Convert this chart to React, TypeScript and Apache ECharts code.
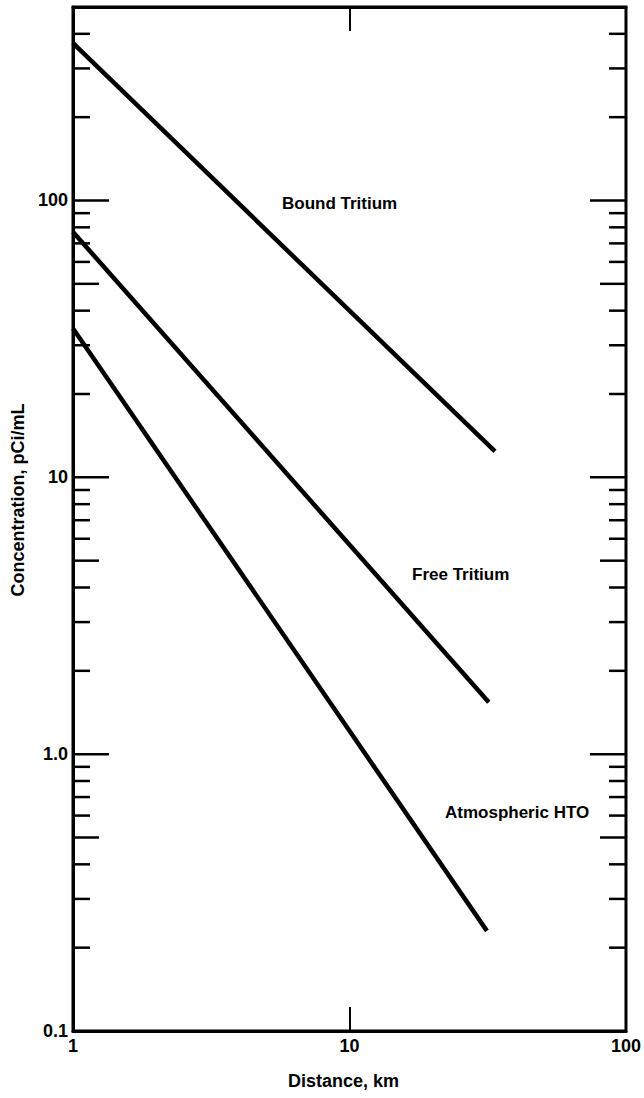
import React, { useEffect, useRef } from "react";
import * as echarts from "echarts";

// Data (log-log)
const boundTritium: [number, number][] = [[1, 370], [33.6, 12.4]];
const freeTritium: [number, number][] = [[1, 77], [31.9, 1.54]];
const atmosphericHTO: [number, number][] = [[1, 34.5], [31.4, 0.23]];

const seriesNames = ["Bound Tritium", "Free Tritium", "Atmospheric HTO"];

const xTickLabels: Record<string, string> = { "0": "1", "1": "10", "2": "100" };
const yTickLabels: Record<string, string> = { "-1": "0.1", "0": "1.0", "1": "10", "2": "100" };

const yMajorTicks = [1, 10, 100];
const yMidTicks = [0.5, 5, 50];
const yMinorTicks = [0.2, 0.3, 0.4, 0.6, 0.7, 0.8, 0.9, 2, 3, 4, 6, 7, 8, 9, 20, 30, 40, 60, 70, 80, 90, 200, 300, 400];

const FONT = "'Liberation Sans', Arial, Helvetica, sans-serif";

function decadeLabel(map: Record<string, string>, v: number): string {
  const l = Math.log10(v);
  const r = Math.round(l);
  if (Math.abs(l - r) < 1e-6 && map[String(r)] !== undefined) return map[String(r)];
  return "";
}

export default function App() {
  const ref = useRef<HTMLDivElement>(null);
  useEffect(() => {
    if (!ref.current) return;
    const chart = echarts.init(ref.current, null, { renderer: "svg" });
    const tickData: [number, number, number][] = [
      ...yMajorTicks.map((v) => [1, v, 36] as [number, number, number]),
      ...yMidTicks.map((v) => [1, v, 26] as [number, number, number]),
      ...yMinorTicks.map((v) => [1, v, 17] as [number, number, number]),
    ];
    const lineStyleBase = { color: "#000", width: 4.5 };
    const option: any = {
      animation: false,
      backgroundColor: "#fff",
      textStyle: { fontFamily: FONT },
      grid: {
        left: 73,
        right: 14,
        top: 7,
        bottom: 67,
        show: true,
        borderColor: "#000",
        borderWidth: 3,
        backgroundColor: "transparent",
      },
      xAxis: [
        {
          type: "log",
          logBase: 10,
          min: 1,
          max: 100,
          name: "Distance, km",
          nameLocation: "middle",
          nameGap: 41,
          nameTextStyle: { fontFamily: FONT, fontWeight: "bold", fontSize: 18, color: "#000", padding: [0, 12, 0, 0] },
          axisLine: { show: true, lineStyle: { color: "#000", width: 3 } },
          axisTick: { show: true, inside: true, length: 24, lineStyle: { color: "#000", width: 2 } },
          axisLabel: {
            margin: 6,
            fontFamily: FONT,
            fontWeight: "bold",
            fontSize: 18,
            color: "#000",
            formatter: (v: number) => decadeLabel(xTickLabels, v),
          },
          splitLine: { show: false },
          minorTick: { show: false },
        },
        {
          type: "log",
          logBase: 10,
          min: 1,
          max: 100,
          position: "top",
          axisLine: { show: true, lineStyle: { color: "#000", width: 3 } },
          axisTick: { show: true, inside: true, length: 24, lineStyle: { color: "#000", width: 2 } },
          axisLabel: { show: false },
          splitLine: { show: false },
        },
      ],
      yAxis: {
        type: "log",
        logBase: 10,
        min: 0.1,
        max: 500,
        interval: 1,
        name: "Concentration, pCi/mL",
        nameLocation: "middle",
        nameRotate: 90,
        nameGap: 40,
        nameTextStyle: { fontFamily: FONT, fontWeight: "bold", fontSize: 18, color: "#000", padding: [0, 0, 0, 38] },
        axisLine: { show: true, lineStyle: { color: "#000", width: 3 } },
        axisTick: { show: false },
        axisLabel: {
          margin: 5,
          fontFamily: FONT,
          fontWeight: "bold",
          fontSize: 18,
          color: "#000",
          showMaxLabel: false,
          formatter: (v: number) => decadeLabel(yTickLabels, v),
        },
        splitLine: { show: false },
      },
      series: [
        {
          name: seriesNames[0],
          type: "line",
          data: boundTritium,
          showSymbol: false,
          symbol: "none",
          lineStyle: lineStyleBase,
        },
        {
          name: seriesNames[1],
          type: "line",
          data: freeTritium,
          showSymbol: false,
          symbol: "none",
          lineStyle: lineStyleBase,
        },
        {
          name: seriesNames[2],
          type: "line",
          data: atmosphericHTO,
          showSymbol: false,
          symbol: "none",
          lineStyle: lineStyleBase,
        },
        {
          name: "yTicks",
          type: "custom",
          silent: true,
          clip: false,
          data: tickData,
          renderItem: (params: any, api: any) => {
            const v = api.value(1);
            const len = api.value(2);
            const pl = api.coord([1, v]);
            const pr = api.coord([100, v]);
            return {
              type: "group",
              children: [
                {
                  type: "line",
                  shape: { x1: pl[0], y1: pl[1], x2: pl[0] + len, y2: pl[1] },
                  style: { stroke: "#000", lineWidth: 2.5 },
                },
                {
                  type: "line",
                  shape: { x1: pr[0], y1: pr[1], x2: pr[0] - len, y2: pr[1] },
                  style: { stroke: "#000", lineWidth: 2.5 },
                },
              ],
            };
          },
        },
      ],
      graphic: [
        {
          type: "text",
          left: 282,
          top: 195,
          style: { text: seriesNames[0], font: `bold 17px ${FONT}`, fill: "#000" },
        },
        {
          type: "text",
          left: 412,
          top: 566,
          style: { text: seriesNames[1], font: `bold 17px ${FONT}`, fill: "#000" },
        },
        {
          type: "text",
          left: 445,
          top: 804,
          style: { text: seriesNames[2], font: `bold 17px ${FONT}`, fill: "#000" },
        },
      ],
    };
    chart.setOption(option);
    return () => chart.dispose();
  }, []);
  return (
    <div
      ref={ref}
      style={{ position: "absolute", left: 0, top: 0, width: 644, height: 1098, background: "#fff" }}
    />
  );
}
